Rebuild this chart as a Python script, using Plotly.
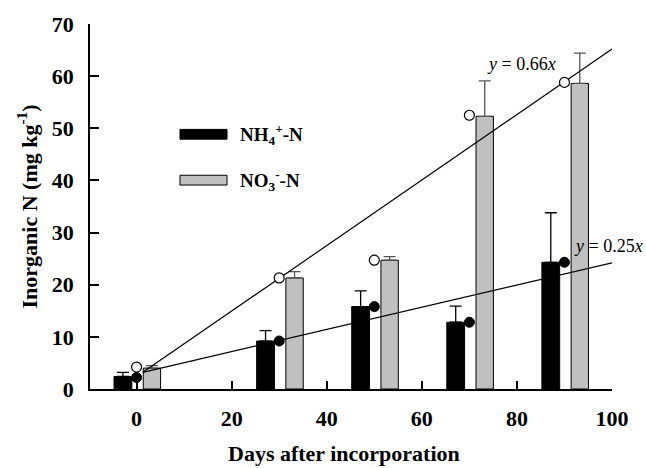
import plotly.graph_objects as go

# ---- data ----
days = [0, 30, 50, 70, 90]
nh4 = [2.4, 9.2, 15.8, 12.8, 24.3]
nh4_err = [0.8, 2.0, 3.0, 3.1, 9.5]
no3 = [4.0, 21.3, 24.7, 52.3, 58.6]
no3_err = [0.5, 1.2, 0.7, 6.8, 5.8]
# mean markers plotted at the true sampling day
nh4_pts = [2.2, 9.2, 15.8, 12.8, 24.3]
no3_pts = [4.2, 21.3, 24.7, 52.5, 58.8]
# regression lines (as drawn)
line_x = [1.3, 100]
line_no3 = [3.2, 65.2]
line_nh4 = [3.2, 24.2]
x_ticks = [0, 20, 40, 60, 80, 100]
y_ticks = [0, 10, 20, 30, 40, 50, 60, 70]

FONT = "Liberation Serif"
GRAY = "#c0c0c0"

fig = go.Figure()

fig.add_trace(go.Bar(
    x=days, y=nh4, offset=-4.75, width=3.75,
    marker=dict(color="black", line=dict(color="black", width=1)),
    error_y=dict(type="data", array=nh4_err, symmetric=False, arrayminus=[0]*5,
                 color="black", thickness=1.3, width=6),
    showlegend=False, hoverinfo="skip"))
fig.add_trace(go.Bar(
    x=days, y=no3, offset=1.4, width=3.65,
    marker=dict(color=GRAY, line=dict(color="black", width=1)),
    error_y=dict(type="data", array=no3_err, symmetric=False, arrayminus=[0]*5,
                 color="#555555", thickness=1.3, width=6),
    showlegend=False, hoverinfo="skip"))

fig.add_trace(go.Scatter(x=line_x, y=line_no3, mode="lines",
                         line=dict(color="black", width=1.2), showlegend=False,
                         hoverinfo="skip"))
fig.add_trace(go.Scatter(x=line_x, y=line_nh4, mode="lines",
                         line=dict(color="black", width=1.2), showlegend=False,
                         hoverinfo="skip"))

fig.add_trace(go.Scatter(x=days, y=no3_pts, mode="markers",
                         marker=dict(symbol="circle", size=10, color="white",
                                     line=dict(color="black", width=1.2)),
                         showlegend=False, hoverinfo="skip"))
fig.add_trace(go.Scatter(x=days, y=nh4_pts, mode="markers",
                         marker=dict(symbol="circle", size=10, color="black",
                                     line=dict(color="black", width=1)),
                         showlegend=False, hoverinfo="skip"))

fig.update_layout(
    width=646, height=468,
    margin=dict(l=90, r=34, t=15, b=79),
    paper_bgcolor="white", plot_bgcolor="white",
    barmode="overlay",
    font=dict(family=FONT, color="black"),
    xaxis=dict(range=[-9.8, 100], tickvals=x_ticks, showgrid=False, zeroline=False,
               showline=True, linecolor="black", linewidth=1.5,
               ticks="inside", ticklen=8, tickwidth=1.5, tickcolor="black",
               tickfont=dict(family=FONT, size=22, weight="bold"),
               ticklabelstandoff=9),
    yaxis=dict(range=[0, 70], tickvals=y_ticks, showgrid=False, zeroline=False,
               showline=True, linecolor="black", linewidth=1.5,
               ticks="inside", ticklen=9, tickwidth=1.5, tickcolor="black",
               tickfont=dict(family=FONT, size=22, weight="bold"),
               ticklabelstandoff=10),
)

annotations = [
    dict(text="Days after incorporation", xref="paper", yref="paper",
         x=0.4866, y=-0.1765, xanchor="center", yanchor="middle", showarrow=False,
         font=dict(family=FONT, size=22, weight="bold")),
    dict(text="Inorganic N (mg kg<sup>-1</sup>)", xref="paper", yref="paper",
         x=-0.1207, y=0.5, xanchor="center", yanchor="middle", textangle=-90,
         showarrow=False, font=dict(family=FONT, size=22, weight="bold")),
    dict(text="<i>y</i> = 0.66<i>x</i>", x=80.9, y=62.3, xref="x", yref="y",
         showarrow=False, xanchor="center", yanchor="middle",
         font=dict(family=FONT, size=18)),
    dict(text="<i>y</i> = 0.25<i>x</i>", x=99.3, y=27.4, xref="x", yref="y",
         showarrow=False, xanchor="center", yanchor="middle",
         font=dict(family=FONT, size=18)),
    dict(text="NH<sub>4</sub><sup>+</sup>-N", xref="paper", yref="paper",
         x=0.2835, y=0.698, xanchor="left", yanchor="middle", showarrow=False,
         font=dict(family=FONT, size=19, weight="bold")),
    dict(text="NO<sub>3</sub><sup>-</sup>-N", xref="paper", yref="paper",
         x=0.2835, y=0.572, xanchor="left", yanchor="middle", showarrow=False,
         font=dict(family=FONT, size=19, weight="bold")),
]
fig.update_layout(annotations=annotations)

fig.add_shape(type="rect", xref="paper", yref="paper",
              x0=0.1724, x1=0.2625, y0=0.6845, y1=0.7112,
              fillcolor="black", line=dict(color="black", width=1))
fig.add_shape(type="rect", xref="paper", yref="paper",
              x0=0.1724, x1=0.2625, y0=0.5588, y1=0.5856,
              fillcolor=GRAY, line=dict(color="black", width=1))

fig.write_html("out.html", config={"displayModeBar": False},
               post_script="document.body.style.margin='0';")
